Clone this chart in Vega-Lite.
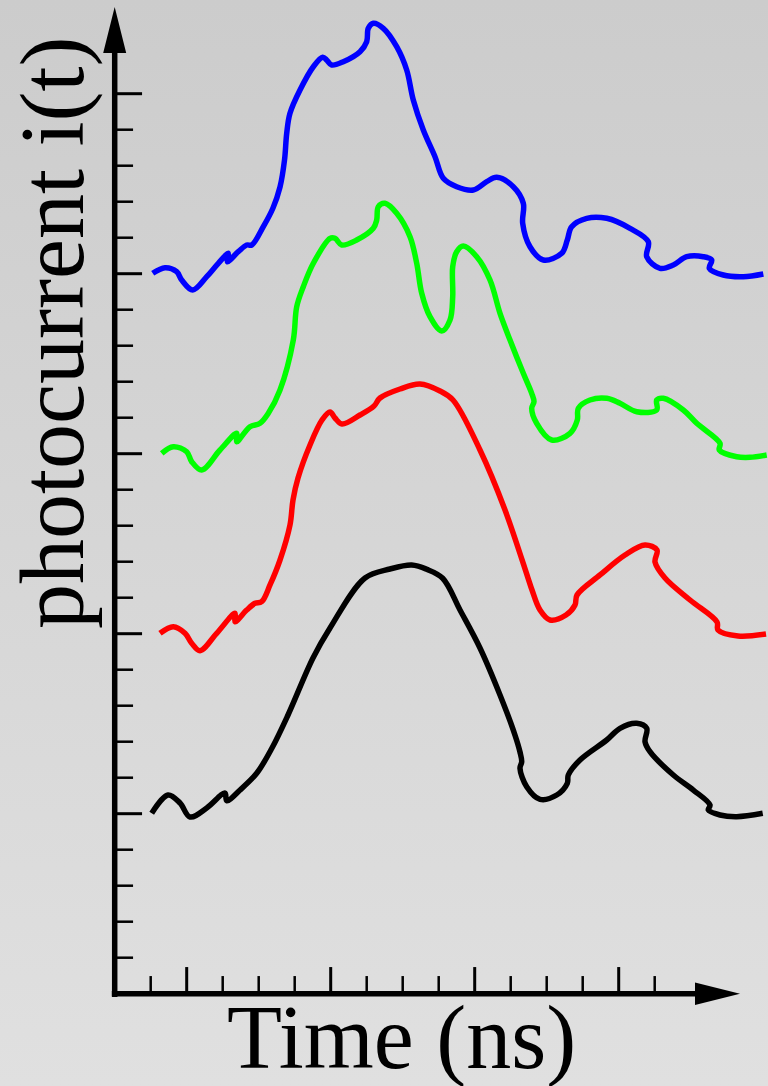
{
  "$schema": "https://vega.github.io/schema/vega-lite/v6.json",
  "width": 768,
  "height": 1086,
  "autosize": {"type": "none"},
  "padding": 0,
  "config": {"view": {"stroke": null}},
  "datasets": {
    "curves": [
      {"s":"black","k":1,"t":1.028,"i":5.011},{"s":"black","k":2,"t":1.481,"i":5.519},{"s":"black","k":3,"t":1.814,"i":5.297},{"s":"black","k":4,"t":2.092,"i":4.908},{"s":"black","k":5,"t":2.556,"i":5.158},{"s":"black","k":6,"t":3.064,"i":5.575},{"s":"black","k":7,"t":3.111,"i":5.361},{"s":"black","k":8,"t":3.481,"i":5.658},{"s":"black","k":9,"t":3.944,"i":6.122},{"s":"black","k":10,"t":4.369,"i":6.825},{"s":"black","k":11,"t":4.814,"i":7.742},{"s":"black","k":12,"t":5.508,"i":9.325},{"s":"black","k":13,"t":5.981,"i":10.158},{"s":"black","k":14,"t":6.953,"i":11.547},{"s":"black","k":15,"t":7.647,"i":11.797},{"s":"black","k":16,"t":8.25,"i":11.908},{"s":"black","k":17,"t":8.667,"i":11.789},{"s":"black","k":18,"t":9.111,"i":11.539},{"s":"black","k":19,"t":9.592,"i":10.658},{"s":"black","k":20,"t":10.147,"i":9.603},{"s":"black","k":21,"t":10.703,"i":8.297},{"s":"black","k":22,"t":11.119,"i":7.186},{"s":"black","k":23,"t":11.258,"i":6.714},{"s":"black","k":24,"t":11.306,"i":6.444},{"s":"black","k":25,"t":11.258,"i":6.261},{"s":"black","k":26,"t":11.444,"i":5.75},{"s":"black","k":27,"t":11.814,"i":5.4},{"s":"black","k":28,"t":12.278,"i":5.519},{"s":"black","k":29,"t":12.572,"i":5.844},{"s":"black","k":30,"t":12.6,"i":6.075},{"s":"black","k":31,"t":12.925,"i":6.492},{"s":"black","k":32,"t":13.667,"i":7.047},{"s":"black","k":33,"t":14.036,"i":7.372},{"s":"black","k":34,"t":14.5,"i":7.511},{"s":"black","k":35,"t":14.778,"i":7.372},{"s":"black","k":36,"t":14.731,"i":7.0},{"s":"black","k":37,"t":14.869,"i":6.722},{"s":"black","k":38,"t":15.517,"i":6.075},{"s":"black","k":39,"t":16.072,"i":5.658},{"s":"black","k":40,"t":16.536,"i":5.242},{"s":"black","k":41,"t":16.489,"i":5.103},{"s":"black","k":42,"t":16.814,"i":4.964},{"s":"black","k":43,"t":17.278,"i":4.917},{"s":"black","k":44,"t":18.0,"i":5.011},

      {"s":"red","k":1,"t":1.258,"i":10.011},{"s":"red","k":2,"t":1.628,"i":10.194},{"s":"red","k":3,"t":1.953,"i":10.011},{"s":"red","k":4,"t":2.139,"i":9.733},{"s":"red","k":5,"t":2.369,"i":9.528},{"s":"red","k":6,"t":2.833,"i":10.011},{"s":"red","k":7,"t":3.342,"i":10.567},{"s":"red","k":8,"t":3.342,"i":10.333},{"s":"red","k":9,"t":3.667,"i":10.658},{"s":"red","k":10,"t":3.897,"i":10.844},{"s":"red","k":11,"t":4.083,"i":10.889},{"s":"red","k":12,"t":4.314,"i":11.353},{"s":"red","k":13,"t":4.592,"i":12.047},{"s":"red","k":14,"t":4.869,"i":13.019},{"s":"red","k":15,"t":4.953,"i":13.714},{"s":"red","k":16,"t":5.092,"i":14.325},{"s":"red","k":17,"t":5.425,"i":15.242},{"s":"red","k":18,"t":5.758,"i":15.936},{"s":"red","k":19,"t":5.981,"i":16.158},{"s":"red","k":20,"t":6.119,"i":15.992},{"s":"red","k":21,"t":6.314,"i":15.825},{"s":"red","k":22,"t":6.814,"i":16.075},{"s":"red","k":23,"t":7.203,"i":16.325},{"s":"red","k":24,"t":7.369,"i":16.547},{"s":"red","k":25,"t":7.925,"i":16.797},{"s":"red","k":26,"t":8.481,"i":16.936},{"s":"red","k":27,"t":9.036,"i":16.742},{"s":"red","k":28,"t":9.397,"i":16.492},{"s":"red","k":29,"t":10.147,"i":15.103},{"s":"red","k":30,"t":10.842,"i":13.436},{"s":"red","k":31,"t":11.481,"i":11.547},{"s":"red","k":32,"t":11.592,"i":11.214},{"s":"red","k":33,"t":11.814,"i":10.658},{"s":"red","k":34,"t":12.092,"i":10.381},{"s":"red","k":35,"t":12.536,"i":10.519},{"s":"red","k":36,"t":12.786,"i":10.797},{"s":"red","k":37,"t":12.842,"i":11.075},{"s":"red","k":38,"t":13.481,"i":11.631},{"s":"red","k":39,"t":14.175,"i":12.186},{"s":"red","k":40,"t":14.731,"i":12.464},{"s":"red","k":41,"t":15.064,"i":12.325},{"s":"red","k":42,"t":15.008,"i":11.992},{"s":"red","k":43,"t":15.286,"i":11.547},{"s":"red","k":44,"t":15.981,"i":10.936},{"s":"red","k":45,"t":16.731,"i":10.325},{"s":"red","k":46,"t":16.758,"i":10.103},{"s":"red","k":47,"t":17.314,"i":9.936},{"s":"red","k":48,"t":18.092,"i":9.992},

      {"s":"green","k":1,"t":1.306,"i":15.011},{"s":"green","k":2,"t":1.628,"i":15.194},{"s":"green","k":3,"t":2.0,"i":15.056},{"s":"green","k":4,"t":2.139,"i":14.778},{"s":"green","k":5,"t":2.417,"i":14.547},{"s":"green","k":6,"t":2.925,"i":15.103},{"s":"green","k":7,"t":3.389,"i":15.567},{"s":"green","k":8,"t":3.389,"i":15.333},{"s":"green","k":9,"t":3.758,"i":15.75},{"s":"green","k":10,"t":4.036,"i":15.844},{"s":"green","k":11,"t":4.267,"i":16.122},{"s":"green","k":12,"t":4.592,"i":16.769},{"s":"green","k":13,"t":4.961,"i":18.158},{"s":"green","k":14,"t":5.056,"i":19.083},{"s":"green","k":15,"t":5.239,"i":19.639},{"s":"green","k":16,"t":5.517,"i":20.289},{"s":"green","k":17,"t":5.981,"i":20.983},{"s":"green","k":18,"t":6.119,"i":20.983},{"s":"green","k":19,"t":6.306,"i":20.797},{"s":"green","k":20,"t":6.722,"i":20.936},{"s":"green","k":21,"t":7.183,"i":21.261},{"s":"green","k":22,"t":7.278,"i":21.492},{"s":"green","k":23,"t":7.322,"i":21.861},{"s":"green","k":24,"t":7.508,"i":21.956},{"s":"green","k":25,"t":7.833,"i":21.678},{"s":"green","k":26,"t":8.203,"i":21.028},{"s":"green","k":27,"t":8.389,"i":20.289},{"s":"green","k":28,"t":8.528,"i":19.456},{"s":"green","k":29,"t":8.758,"i":18.806},{"s":"green","k":30,"t":9.083,"i":18.408},{"s":"green","k":31,"t":9.314,"i":18.714},{"s":"green","k":32,"t":9.389,"i":19.361},{"s":"green","k":33,"t":9.389,"i":20.194},{"s":"green","k":34,"t":9.5,"i":20.611},{"s":"green","k":35,"t":9.683,"i":20.769},{"s":"green","k":36,"t":10.056,"i":20.472},{"s":"green","k":37,"t":10.425,"i":19.825},{"s":"green","k":38,"t":10.703,"i":18.9},{"s":"green","k":39,"t":10.981,"i":18.158},{"s":"green","k":40,"t":11.35,"i":17.233},{"s":"green","k":41,"t":11.583,"i":16.678},{"s":"green","k":42,"t":11.647,"i":16.444},{"s":"green","k":43,"t":11.583,"i":16.261},{"s":"green","k":44,"t":11.722,"i":15.844},{"s":"green","k":45,"t":12.139,"i":15.381},{"s":"green","k":46,"t":12.647,"i":15.567},{"s":"green","k":47,"t":12.85,"i":15.936},{"s":"green","k":48,"t":12.878,"i":16.261},{"s":"green","k":49,"t":13.203,"i":16.492},{"s":"green","k":50,"t":13.667,"i":16.539},{"s":"green","k":51,"t":14.036,"i":16.4},{"s":"green","k":52,"t":14.5,"i":16.167},{"s":"green","k":53,"t":15.056,"i":16.214},{"s":"green","k":54,"t":15.056,"i":16.492},{"s":"green","k":55,"t":15.239,"i":16.539},{"s":"green","k":56,"t":15.794,"i":16.214},{"s":"green","k":57,"t":16.167,"i":15.844},{"s":"green","k":58,"t":16.814,"i":15.289},{"s":"green","k":59,"t":16.794,"i":15.103},{"s":"green","k":60,"t":17.278,"i":14.917},{"s":"green","k":61,"t":17.647,"i":14.9},{"s":"green","k":62,"t":18.111,"i":14.964},

      {"s":"blue","k":1,"t":1.056,"i":20.011},{"s":"blue","k":2,"t":1.397,"i":20.167},{"s":"blue","k":3,"t":1.722,"i":20.056},{"s":"blue","k":4,"t":1.861,"i":19.825},{"s":"blue","k":5,"t":2.167,"i":19.547},{"s":"blue","k":6,"t":2.556,"i":19.917},{"s":"blue","k":7,"t":2.878,"i":20.289},{"s":"blue","k":8,"t":3.156,"i":20.567},{"s":"blue","k":9,"t":3.128,"i":20.333},{"s":"blue","k":10,"t":3.433,"i":20.611},{"s":"blue","k":11,"t":3.667,"i":20.797},{"s":"blue","k":12,"t":3.806,"i":20.797},{"s":"blue","k":13,"t":4.128,"i":21.306},{"s":"blue","k":14,"t":4.397,"i":21.825},{"s":"blue","k":15,"t":4.592,"i":22.408},{"s":"blue","k":16,"t":4.717,"i":23.158},{"s":"blue","k":17,"t":4.778,"i":23.9},{"s":"blue","k":18,"t":4.869,"i":24.456},{"s":"blue","k":19,"t":5.147,"i":25.103},{"s":"blue","k":20,"t":5.517,"i":25.75},{"s":"blue","k":21,"t":5.778,"i":26.011},{"s":"blue","k":22,"t":5.889,"i":25.936},{"s":"blue","k":23,"t":6.028,"i":25.797},{"s":"blue","k":24,"t":6.35,"i":25.889},{"s":"blue","k":25,"t":6.814,"i":26.167},{"s":"blue","k":26,"t":7.0,"i":26.444},{"s":"blue","k":27,"t":7.044,"i":26.817},{"s":"blue","k":28,"t":7.183,"i":26.956},{"s":"blue","k":29,"t":7.461,"i":26.817},{"s":"blue","k":30,"t":7.833,"i":26.306},{"s":"blue","k":31,"t":8.111,"i":25.658},{"s":"blue","k":32,"t":8.294,"i":24.825},{"s":"blue","k":33,"t":8.572,"i":23.992},{"s":"blue","k":34,"t":8.897,"i":23.25},{"s":"blue","k":35,"t":9.128,"i":22.65},{"s":"blue","k":36,"t":9.5,"i":22.417},{"s":"blue","k":37,"t":9.961,"i":22.325},{"s":"blue","k":38,"t":10.333,"i":22.556},{"s":"blue","k":39,"t":10.611,"i":22.678},{"s":"blue","k":40,"t":11.072,"i":22.417},{"s":"blue","k":41,"t":11.35,"i":21.956},{"s":"blue","k":42,"t":11.333,"i":21.4},{"s":"blue","k":43,"t":11.536,"i":20.75},{"s":"blue","k":44,"t":11.906,"i":20.381},{"s":"blue","k":45,"t":12.417,"i":20.567},{"s":"blue","k":46,"t":12.572,"i":20.936},{"s":"blue","k":47,"t":12.694,"i":21.306},{"s":"blue","k":48,"t":13.111,"i":21.539},{"s":"blue","k":49,"t":13.667,"i":21.539},{"s":"blue","k":50,"t":14.314,"i":21.261},{"s":"blue","k":51,"t":14.822,"i":20.889},{"s":"blue","k":52,"t":14.778,"i":20.472},{"s":"blue","k":53,"t":15.147,"i":20.15},{"s":"blue","k":54,"t":15.517,"i":20.242},{"s":"blue","k":55,"t":15.889,"i":20.472},{"s":"blue","k":56,"t":16.35,"i":20.472},{"s":"blue","k":57,"t":16.583,"i":20.381},{"s":"blue","k":58,"t":16.517,"i":20.15},{"s":"blue","k":59,"t":16.906,"i":19.964},{"s":"blue","k":60,"t":17.461,"i":19.917},{"s":"blue","k":61,"t":18.017,"i":19.992}
    ],
    "yminor": [{"v":1},{"v":2},{"v":3},{"v":4},{"v":6},{"v":7},{"v":8},{"v":9},{"v":11},{"v":12},{"v":13},{"v":14},{"v":16},{"v":17},{"v":18},{"v":19},{"v":21},{"v":22},{"v":23},{"v":24}],
    "ymajor": [{"v":5},{"v":10},{"v":15},{"v":20},{"v":25}],
    "xminor": [{"v":1},{"v":3},{"v":4},{"v":5},{"v":7},{"v":8},{"v":9},{"v":11},{"v":12},{"v":13},{"v":15}],
    "xmajor": [{"v":2},{"v":6},{"v":10},{"v":14}]
  },
  "layer": [
    {
      "data": {"values": [{}]},
      "mark": {"type": "rect", "fill": {"gradient": "linear", "x1": 0, "y1": 0, "x2": 0, "y2": 1, "stops": [{"offset": 0, "color": "#cccccc"}, {"offset": 1, "color": "#e0e0e0"}]}},
      "encoding": {
        "x": {"datum": -3.186, "type": "quantitative", "scale": {"domain": [-3.186, 18.147], "nice": false, "zero": false}, "axis": null},
        "x2": {"datum": 18.147},
        "y": {"datum": -2.564, "type": "quantitative", "scale": {"domain": [-2.564, 27.603], "nice": false, "zero": false}, "axis": null},
        "y2": {"datum": 27.603}
      }
    },
    {
      "data": {"name": "yminor"},
      "mark": {"type": "rule", "color": "#000000", "strokeWidth": 2.5},
      "encoding": {
        "x": {"datum": 0, "type": "quantitative", "scale": {"domain": [-3.186, 18.147], "nice": false, "zero": false}, "axis": null},
        "x2": {"datum": 0.51},
        "y": {"field": "v", "type": "quantitative", "scale": {"domain": [-2.564, 27.603], "nice": false, "zero": false}, "axis": null}
      }
    },
    {
      "data": {"name": "ymajor"},
      "mark": {"type": "rule", "color": "#000000", "strokeWidth": 3},
      "encoding": {
        "x": {"datum": 0, "type": "quantitative", "scale": {"domain": [-3.186, 18.147], "nice": false, "zero": false}, "axis": null},
        "x2": {"datum": 0.76},
        "y": {"field": "v", "type": "quantitative", "scale": {"domain": [-2.564, 27.603], "nice": false, "zero": false}, "axis": null}
      }
    },
    {
      "data": {"name": "xminor"},
      "mark": {"type": "rule", "color": "#000000", "strokeWidth": 2.5},
      "encoding": {
        "x": {"field": "v", "type": "quantitative", "scale": {"domain": [-3.186, 18.147], "nice": false, "zero": false}, "axis": null},
        "y": {"datum": 0, "type": "quantitative", "scale": {"domain": [-2.564, 27.603], "nice": false, "zero": false}, "axis": null},
        "y2": {"datum": 0.49}
      }
    },
    {
      "data": {"name": "xmajor"},
      "mark": {"type": "rule", "color": "#000000", "strokeWidth": 3},
      "encoding": {
        "x": {"field": "v", "type": "quantitative", "scale": {"domain": [-3.186, 18.147], "nice": false, "zero": false}, "axis": null},
        "y": {"datum": 0, "type": "quantitative", "scale": {"domain": [-2.564, 27.603], "nice": false, "zero": false}, "axis": null},
        "y2": {"datum": 0.74}
      }
    },
    {
      "data": {"values": [{}]},
      "mark": {"type": "rule", "color": "#000000", "strokeWidth": 5.5},
      "encoding": {
        "x": {"datum": 0, "type": "quantitative", "scale": {"domain": [-3.186, 18.147], "nice": false, "zero": false}, "axis": null},
        "y": {"datum": -0.09, "type": "quantitative", "scale": {"domain": [-2.564, 27.603], "nice": false, "zero": false}, "axis": null},
        "y2": {"datum": 26.2}
      }
    },
    {
      "data": {"values": [{}]},
      "mark": {"type": "rule", "color": "#000000", "strokeWidth": 5.5},
      "encoding": {
        "x": {"datum": -0.08, "type": "quantitative", "scale": {"domain": [-3.186, 18.147], "nice": false, "zero": false}, "axis": null},
        "x2": {"datum": 16.2},
        "y": {"datum": 0, "type": "quantitative", "scale": {"domain": [-2.564, 27.603], "nice": false, "zero": false}, "axis": null}
      }
    },
    {
      "data": {"values": [{}]},
      "mark": {"type": "point", "shape": "M-0.5,1L0,-1L0.5,1Z", "filled": true, "color": "#000000", "opacity": 1, "size": 2116, "strokeWidth": 0},
      "encoding": {
        "x": {"datum": 0, "type": "quantitative", "scale": {"domain": [-3.186, 18.147], "nice": false, "zero": false}, "axis": null},
        "y": {"datum": 26.77, "type": "quantitative", "scale": {"domain": [-2.564, 27.603], "nice": false, "zero": false}, "axis": null}
      }
    },
    {
      "data": {"values": [{}]},
      "mark": {"type": "point", "shape": "M-1,-0.5L1,0L-1,0.5Z", "filled": true, "color": "#000000", "opacity": 1, "size": 2025, "strokeWidth": 0},
      "encoding": {
        "x": {"datum": 16.744, "type": "quantitative", "scale": {"domain": [-3.186, 18.147], "nice": false, "zero": false}, "axis": null},
        "y": {"datum": 0, "type": "quantitative", "scale": {"domain": [-2.564, 27.603], "nice": false, "zero": false}, "axis": null}
      }
    },
    {
      "data": {"name": "curves"},
      "mark": {"type": "line", "interpolate": "catmull-rom", "strokeWidth": 5.5, "strokeCap": "butt", "strokeJoin": "round"},
      "encoding": {
        "x": {"field": "t", "type": "quantitative", "scale": {"domain": [-3.186, 18.147], "nice": false, "zero": false}, "axis": null},
        "y": {"field": "i", "type": "quantitative", "scale": {"domain": [-2.564, 27.603], "nice": false, "zero": false}, "axis": null},
        "color": {"field": "s", "type": "nominal", "scale": {"domain": ["black", "red", "green", "blue"], "range": ["#000000", "#ff0000", "#00ff00", "#0000ff"]}, "legend": null},
        "order": {"field": "k", "type": "quantitative"}
      }
    },
    {
      "data": {"values": [{}]},
      "mark": {"type": "text", "text": "Time (ns)", "font": "Liberation Serif", "fontSize": 90, "align": "center", "baseline": "alphabetic", "color": "#000000"},
      "encoding": {
        "x": {"datum": 7.97, "type": "quantitative", "scale": {"domain": [-3.186, 18.147], "nice": false, "zero": false}, "axis": null},
        "y": {"datum": -2.064, "type": "quantitative", "scale": {"domain": [-2.564, 27.603], "nice": false, "zero": false}, "axis": null}
      }
    },
    {
      "data": {"values": [{}]},
      "mark": {"type": "text", "text": "photocurrent i(t)", "font": "Liberation Serif", "fontSize": 90, "angle": 270, "align": "center", "baseline": "alphabetic", "color": "#000000"},
      "encoding": {
        "x": {"datum": -0.87, "type": "quantitative", "scale": {"domain": [-3.186, 18.147], "nice": false, "zero": false}, "axis": null},
        "y": {"datum": 18.36, "type": "quantitative", "scale": {"domain": [-2.564, 27.603], "nice": false, "zero": false}, "axis": null}
      }
    }
  ]
}
